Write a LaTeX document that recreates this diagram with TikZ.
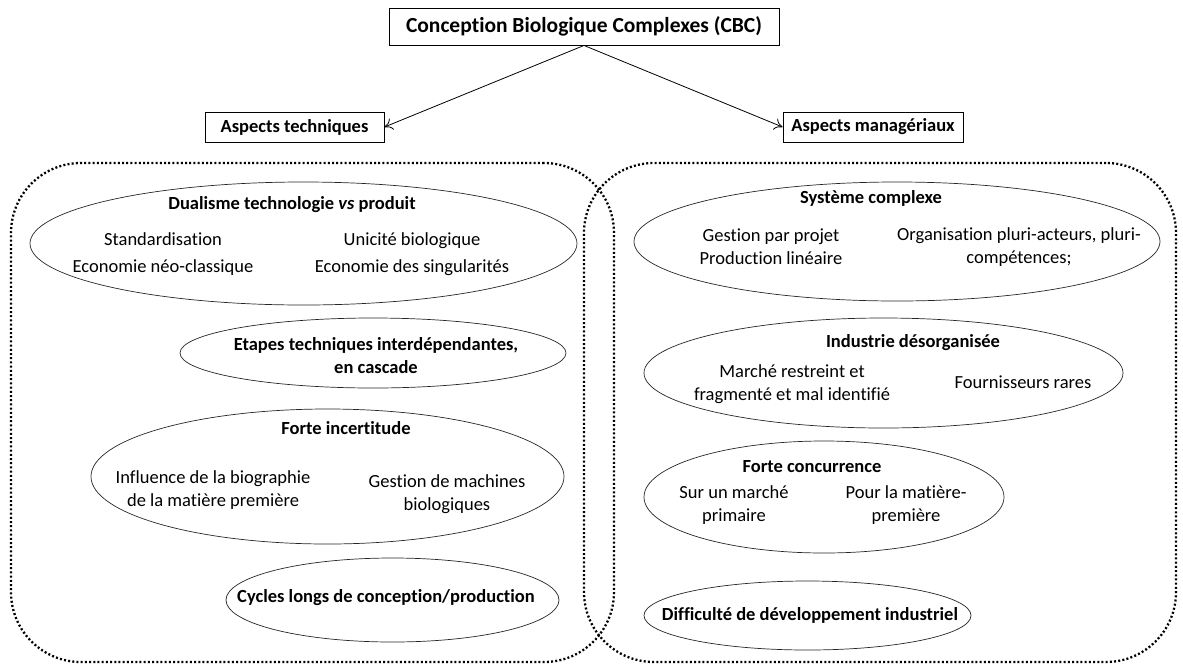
\documentclass[tikz,border=0pt]{standalone}
\usepackage{fontspec}
\setmainfont{Carlito}[Ligatures=NoCommon]
\usetikzlibrary{shapes.geometric,arrows.meta}
\begin{document}
\begin{tikzpicture}[x=1pt,y=-1pt,
  box/.style={draw, line width=0.9pt, font=\bfseries\fontsize{18.5}{22}\selectfont, inner sep=0pt},
  ell/.style={ellipse, draw=black!85, line width=0.7pt, inner sep=0pt},
  ttl/.style={font=\bfseries\fontsize{18.5}{23}\selectfont, align=center, inner sep=0pt},
  txt/.style={font=\fontsize{18.5}{23}\selectfont, align=center, inner sep=0pt},
  wtxt/.style={font=\fontsize{18.5}{27}\selectfont, align=center, inner sep=0pt},
  grp/.style={draw, line width=2.3pt, dash pattern=on 2pt off 2.2pt, rounded corners=70pt, rectangle, inner sep=0pt},
  arr/.style={-{To[length=8pt,width=12pt]}, line width=0.8pt}]
\useasboundingbox (0,0) rectangle (1183,670);
% top boxes
\node[box, minimum width=390pt, minimum height=37pt, font=\bfseries\fontsize{21.5}{26}\selectfont] (cbc) at (584,26.5) {Conception Biologique Complexes (CBC)};
\node[box, minimum width=179pt, minimum height=30pt] (tech) at (294.5,127) {Aspects techniques};
\node[box, minimum width=180pt, minimum height=30pt] (man) at (873,127) {Aspects managériaux};
\draw[arr] (cbc.south) -- (tech.east);
\draw[arr] (cbc.south) -- (man.west);
% groups
\node[grp, minimum width=603pt, minimum height=499pt] (gl) at (312.5,412.5) {};
\node[grp, minimum width=592pt, minimum height=499pt] (gr) at (880,412.5) {};
% left ellipses
\node[ell, minimum width=547pt, minimum height=123pt] (e1) at (303.5,243.5) {};
\node[ttl] (e1t) at (292,205) {Dualisme technologie \textit{vs} produit};
\node[wtxt] (e1a) at (163,254.5) {Standardisation\\Economie néo-classique};
\node[wtxt] (e1b) at (412,254.5) {Unicité biologique\\Economie des singularités};
\node[ell, minimum width=386pt, minimum height=70pt] (e2) at (373,353) {};
\node[ttl] (e2t) at (376,356) {Etapes techniques interdépendantes,\\en cascade};
\node[ell, minimum width=473pt, minimum height=135pt] (e3) at (327.5,476.5) {};
\node[ttl] (e3t) at (346,428) {Forte incertitude};
\node[txt] (e3a) at (213,490.5) {Influence de la biographie\\de la matière première};
\node[txt] (e3b) at (447,494) {Gestion de machines\\biologiques};
\node[ell, minimum width=333pt, minimum height=84pt] (e4) at (392.5,600) {};
\node[ttl] (e4t) at (386,598) {Cycles longs de conception/production};
% right ellipses
\node[ell, minimum width=526pt, minimum height=119pt] (e5) at (897,241.5) {};
\node[ttl] (e5t) at (871,198) {Système complexe};
\node[txt] (e5a) at (771,247) {Gestion par projet\\Production linéaire};
\node[txt] (e5b) at (1019,247.5) {Organisation pluri-acteurs, pluri-\\compétences;};
\node[ell, minimum width=479pt, minimum height=110pt] (e6) at (883.5,373) {};
\node[ttl] (e6t) at (913,343) {Industrie désorganisée};
\node[txt] (e6a) at (792,384.5) {Marché restreint et\\fragmenté et mal identifié};
\node[txt] (e6b) at (1023,382) {Fournisseurs rares};
\node[ell, minimum width=360pt, minimum height=112pt] (e7) at (824,497) {};
\node[ttl] (e7t) at (812,467) {Forte concurrence};
\node[txt] (e7a) at (734,505.5) {Sur un marché\\primaire};
\node[txt] (e7b) at (906,505.5) {Pour la matière-\\première};
\node[ell, minimum width=327pt, minimum height=69pt] (e8) at (807.5,615.5) {};
\node[ttl] (e8t) at (810,615) {Difficulté de développement industriel};
\end{tikzpicture}
\end{document}
